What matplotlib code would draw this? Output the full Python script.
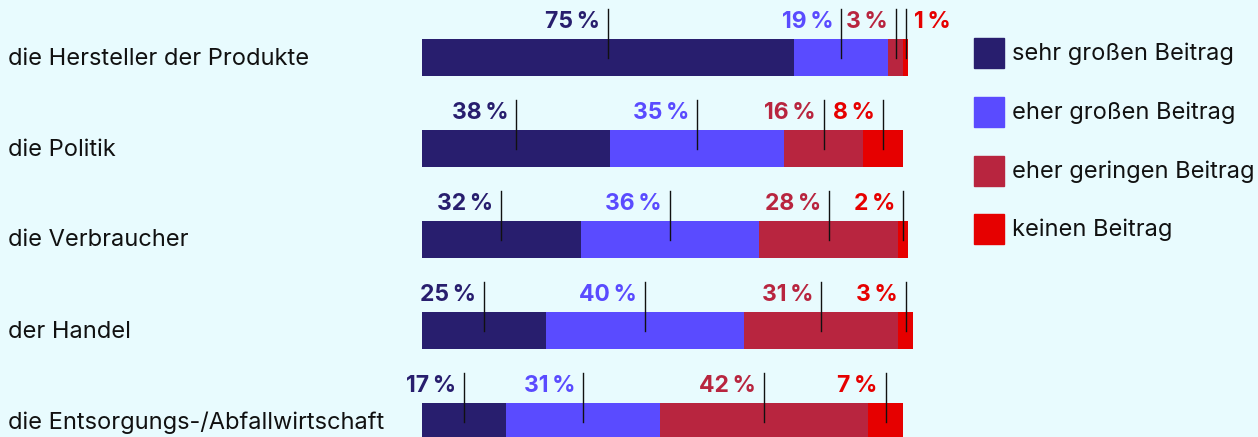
import numpy as np
import matplotlib.pyplot as plt
from matplotlib.patches import Rectangle

# data
categories = ['die Hersteller der Produkte', 'die Politik', 'die Verbraucher',
              'der Handel', 'die Entsorgungs-/Abfallwirtschaft']
series = ['sehr großen Beitrag', 'eher großen Beitrag',
          'eher geringen Beitrag', 'keinen Beitrag']
values = np.array([
    [75, 19, 3, 1],
    [38, 35, 16, 8],
    [32, 36, 28, 2],
    [25, 40, 31, 3],
    [17, 31, 42, 7],
])
colors = ['#281e6e', '#5a4bff', '#b8253f', '#e60000']
bg = '#e8fbfe'

W, H = 1258, 437
fig = plt.figure(figsize=(W/100, H/100), dpi=100, facecolor=bg)
plt.rcParams['font.family'] = ['Inter', 'DejaVu Sans']

# axes mapped to pixels: x in percent (4.96 px per %), y in rows (91 px per row)
px_per_pct = 4.96
row_px = 91
y0 = 57.5
ax = fig.add_axes([422/W, 0, 100*px_per_pct/W, 1])
ax.set_xlim(0, 100)
ax.set_ylim((H - y0)/row_px, -y0/row_px)
ax.axis('off')

n = len(categories)
ypos = np.arange(n)
left = np.zeros(n)
for j, s in enumerate(series):
    ax.barh(ypos, values[:, j], left=left, height=37/row_px, color=colors[j], label=s)
    for i in range(n):
        mid = left[i] + values[i, j]/2
        ax.plot([mid, mid], [i - 48.5/row_px, i], color='#111111', lw=1, zorder=3)
        txt = f'{values[i, j]}\u2009%'
        if i == 0 and j == 3:
            ax.text(mid + 1.6, i - 29.5/row_px, txt, ha='left', va='baseline',
                    color=colors[j], fontsize=16.5, fontweight='bold')
        else:
            ax.text(mid - 1.6, i - 29.5/row_px, txt, ha='right', va='baseline',
                    color=colors[j], fontsize=16.5, fontweight='bold')
    left = left + values[:, j]

for i, c in enumerate(categories):
    fig.text(8/W, 1 - (y0 + 1 + i*row_px)/H, c, ha='left', va='center',
             fontsize=17, color='#111111')

# legend
leg_y = [53, 112, 171, 229]
for j, s in enumerate(series):
    fig.patches.append(Rectangle((974/W, 1 - (leg_y[j] + 15)/H), 30/W, 30/H,
                                 transform=fig.transFigure, color=colors[j]))
    fig.text(1012/W, 1 - (leg_y[j] + 1)/H, s, ha='left', va='center',
             fontsize=17, color='#111111')

fig.savefig('out.png', dpi=100, facecolor=bg)
